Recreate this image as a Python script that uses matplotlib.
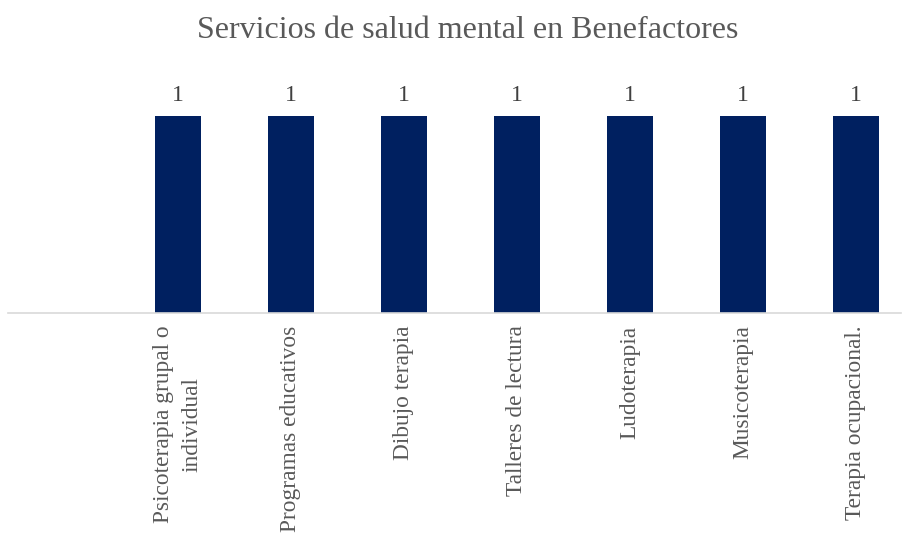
import matplotlib
matplotlib.use("Agg")
import matplotlib.pyplot as plt
import numpy as np

categories = ["Psicoterapia grupal o\nindividual", "Programas educativos",
              "Dibujo terapia", "Talleres de lectura", "Ludoterapia",
              "Musicoterapia", "Terapia ocupacional."]
values = [1, 1, 1, 1, 1, 1, 1]

plt.rcParams["font.family"] = ["Liberation Serif", "DejaVu Serif"]
text_color = "#595959"

fig = plt.figure(figsize=(9.02, 5.38), dpi=100)
ax = fig.add_axes([8 / 902, 1 - 313 / 538, 893 / 902, (313 - 116) / 538])

x = np.arange(len(categories))
bars = ax.bar(x, values, width=0.403, color="#002060")
for b, v in zip(bars, values):
    ax.annotate(f"{v}", (b.get_x() + b.get_width() / 2, v), xytext=(0, 7),
                textcoords="offset points", ha="center", va="bottom",
                fontsize=17, color="#404040")

ax.set_xlim(-1.504, 6.40)
ax.set_ylim(0, 1)
ax.set_xticks(x)
ax.set_xticklabels(categories, rotation=90, fontsize=16.8, color=text_color,
                   ha="center", va="top", multialignment="center",
                   linespacing=1.5)
ax.tick_params(axis="x", length=0, pad=9)
ax.set_yticks([])
for s in ["top", "right", "left"]:
    ax.spines[s].set_visible(False)
ax.spines["bottom"].set_color("#d9d9d9")
ax.spines["bottom"].set_linewidth(1.2)

fig.text(0.518, 1 - 31 / 538, "Servicios de salud mental en Benefactores",
         ha="center", va="center", fontsize=23, color=text_color)

fig.savefig("out.png", dpi=100)
